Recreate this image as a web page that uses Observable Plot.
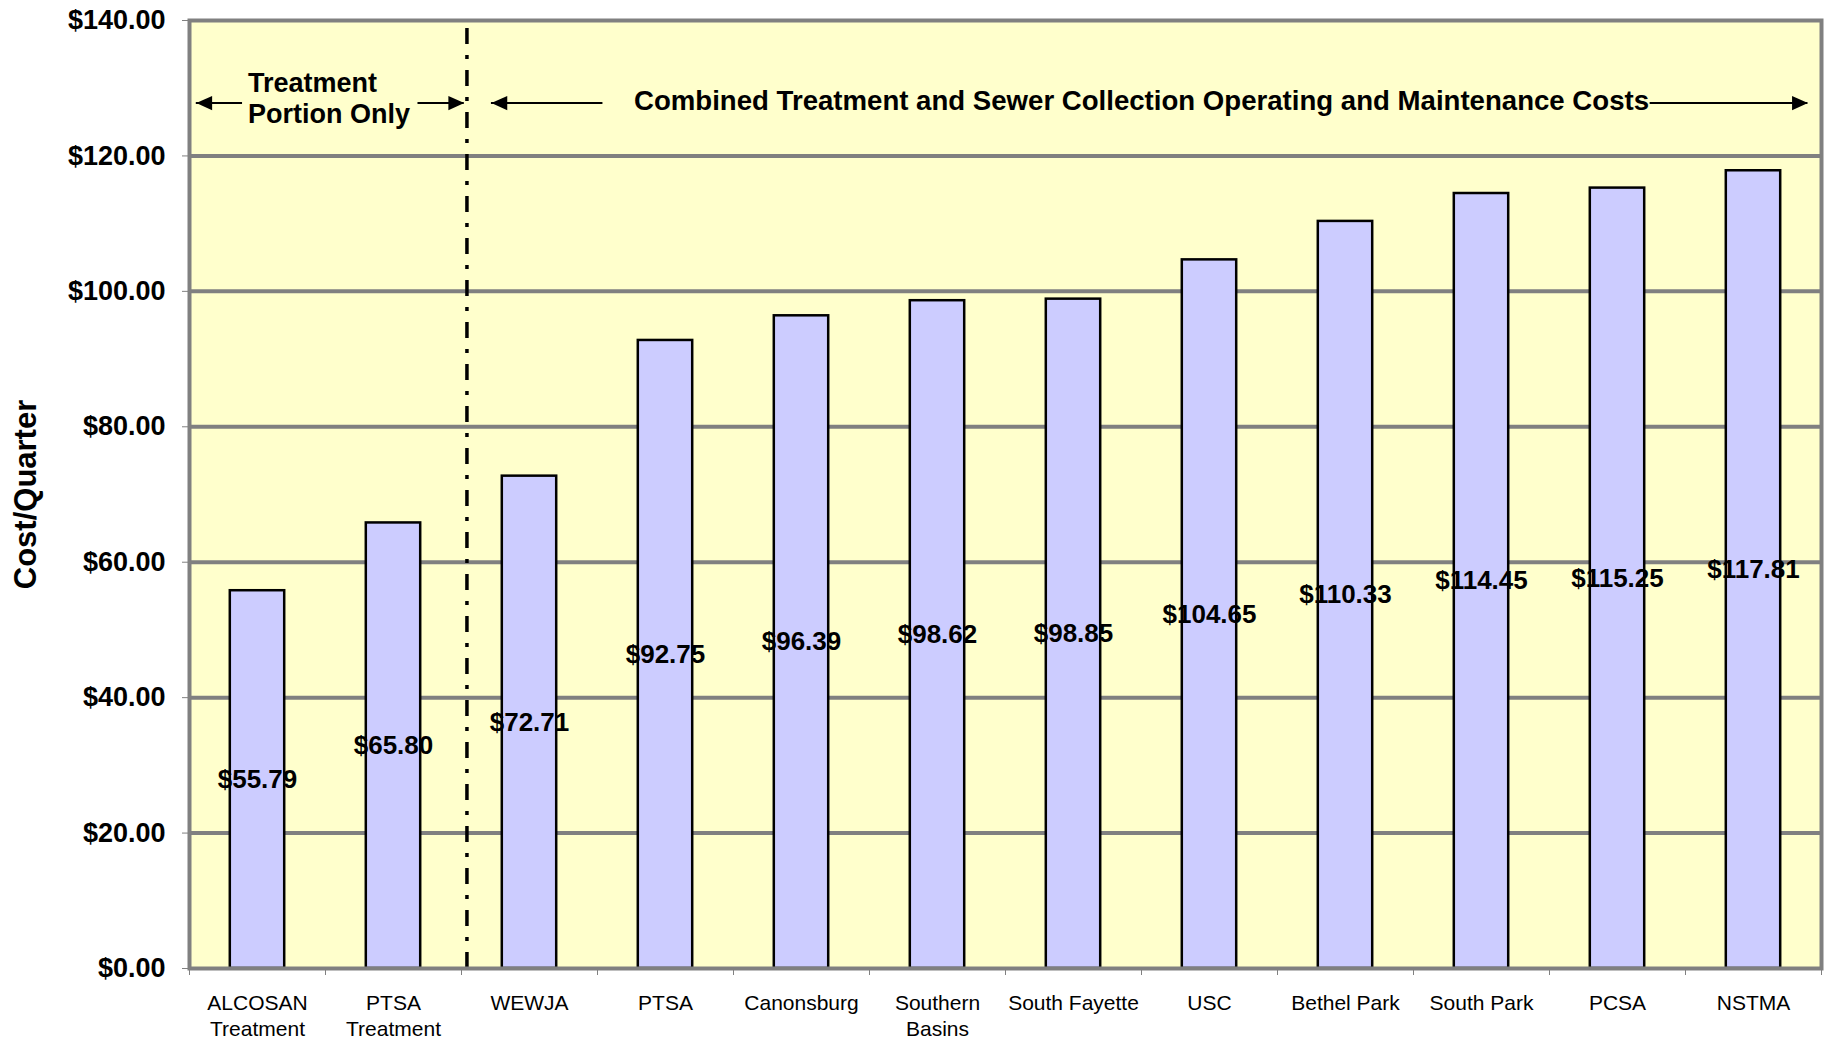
<!DOCTYPE html>
<html>
<head>
<meta charset="utf-8">
<script src="https://cdn.jsdelivr.net/npm/d3@7"></script>
<script src="https://cdn.jsdelivr.net/npm/@observablehq/plot@0.6"></script>
<style>
  html, body { margin: 0; padding: 0; background: #ffffff; }
  #chart { width: 1833px; height: 1041px; }
</style>
</head>
<body>
<div id="chart"></div>
<script>
// ---- data ----
const categories = [
  "ALCOSAN\nTreatment", "PTSA\nTreatment", "WEWJA", "PTSA", "Canonsburg",
  "Southern\nBasins", "South Fayette", "USC", "Bethel Park", "South Park",
  "PCSA", "NSTMA"
];
const costs = [55.79, 65.80, 72.71, 92.75, 96.39, 98.62, 98.85, 104.65, 110.33, 114.45, 115.25, 117.81];
const yTicks = [0, 20, 40, 60, 80, 100, 120, 140];
const gridValues = [20, 40, 60, 80, 100, 120];

// annotations (in category-index units on x, dollars on y)
const dividerX = 2.04;
const treatmentNote = [{x: 0.43, y: 128.6, text: "Treatment\nPortion Only"}];
const combinedNote = [{x: 7.0, y: 128.1, text: "Combined Treatment and Sewer Collection Operating and Maintenance Costs"}];
const arrows = [
  {x1: 0.39, x2: 0.05, y: 127.8},
  {x1: 1.68, x2: 2.02, y: 127.8},
  {x1: 3.04, x2: 2.22, y: 127.8},
  {x1: 10.74, x2: 11.90, y: 127.8}
];

const data = categories.map((c, i) => ({name: c, value: costs[i], i}));

// filled triangle symbols, tip at origin
const triRight = {draw(ctx, size) { const h = Math.sqrt(size); ctx.moveTo(0, 0); ctx.lineTo(-h * 1.05, -h * 0.48); ctx.lineTo(-h * 1.05, h * 0.48); ctx.closePath(); }};
const triLeft = {draw(ctx, size) { const h = Math.sqrt(size); ctx.moveTo(0, 0); ctx.lineTo(h * 1.05, -h * 0.48); ctx.lineTo(h * 1.05, h * 0.48); ctx.closePath(); }};

const chart = Plot.plot({
  width: 1833,
  height: 1041,
  marginLeft: 189,
  marginRight: 12,
  marginTop: 20,
  marginBottom: 73,
  style: {fontFamily: "'Liberation Sans', Arial, sans-serif", background: "#ffffff", overflow: "visible"},
  x: {domain: [0, categories.length], axis: null},
  y: {domain: [0, 140], axis: null},
  marks: [
    Plot.frame({fill: "#FFFFCC"}),
    Plot.ruleY(gridValues, {stroke: "#808080", strokeWidth: 4}),
    Plot.rectY(data, {
      x1: d => d.i + 0.3, x2: d => d.i + 0.7, y: "value",
      fill: "#CCCCFF", stroke: "black", strokeWidth: 2.5
    }),
    Plot.ruleX([dividerX], {y1: 0, y2: 140, stroke: "black", strokeWidth: 3.5, strokeDasharray: "16,11,4,11"}),
    Plot.text(data, {
      x: d => d.i + 0.5, y: d => d.value / 2, text: d => "$" + d.value.toFixed(2),
      fontSize: 26, fontWeight: "bold", fill: "black", textAnchor: "middle", lineAnchor: "middle"
    }),
    // annotations
    Plot.text(treatmentNote, {x: "x", y: "y", text: "text", textAnchor: "start", lineAnchor: "middle",
      lineHeight: 1.15, fontSize: 27, fontWeight: "bold", fill: "black"}),
    Plot.text(combinedNote, {x: "x", y: "y", text: "text", textAnchor: "middle", lineAnchor: "middle",
      fontSize: 27.6, fontWeight: "bold", fill: "black"}),
    Plot.ruleY(arrows, {y: "y", x1: "x1", x2: "x2", stroke: "black", strokeWidth: 2}),
    Plot.dot(arrows.filter(d => d.x2 > d.x1), {x: "x2", y: "y", symbol: triRight, r: 8.5, fill: "black", stroke: null}),
    Plot.dot(arrows.filter(d => d.x2 < d.x1), {x: "x2", y: "y", symbol: triLeft, r: 8.5, fill: "black", stroke: null}),
    // axes
    Plot.axisY({ticks: yTicks, tickSize: 7, tickPadding: 17, tickFormat: d => "$" + d.toFixed(2),
      fontSize: 27, fontWeight: "bold", label: null, stroke: "#808080", fill: "black"}),
    Plot.axisX({ticks: d3.range(0, categories.length + 1), tickSize: 7, tickFormat: () => "", label: null, stroke: "#808080"}),
    Plot.text(data, {
      x: d => d.i + 0.5, y: 0, text: "name", dy: 23.5, lineAnchor: "top", lineHeight: 1.22,
      fontSize: 21, fill: "black", textAnchor: "middle"
    }),
    Plot.text(["Cost/Quarter"], {frameAnchor: "left", rotate: -90, dx: -163, text: d => d,
      fontSize: 31, fontWeight: "bold", fill: "black", textAnchor: "middle", lineAnchor: "middle"}),
    Plot.ruleY([0], {stroke: "black", strokeWidth: 2}),
    Plot.frame({stroke: "#808080", strokeWidth: 4})
  ]
});
document.getElementById("chart").appendChild(chart);
</script>
</body>
</html>
